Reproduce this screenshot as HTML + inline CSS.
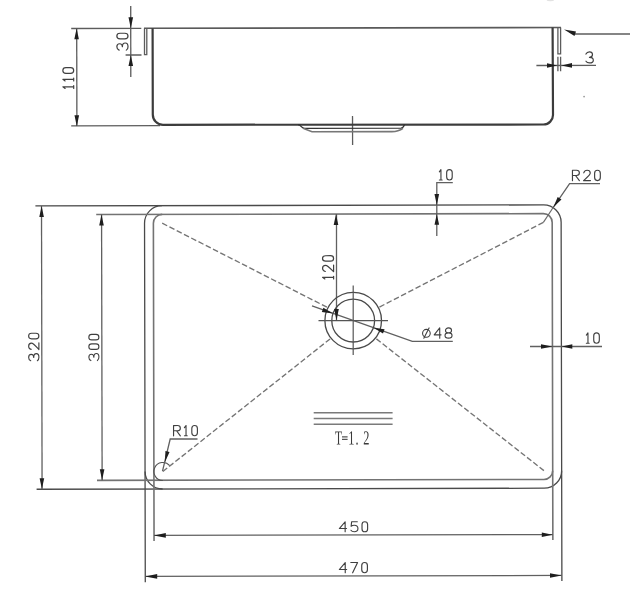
<!DOCTYPE html>
<html><head><meta charset="utf-8">
<style>
html,body{margin:0;padding:0;background:#fff;}
body{width:641px;height:600px;overflow:hidden;}
svg{display:block;}
.s{font-family:"Liberation Serif",serif;font-size:20px;fill:#3a3a3a;filter:grayscale(100%);}
</style></head>
<body>
<svg width="641" height="600" viewBox="0 0 641 600">
<rect width="641" height="600" fill="#fff"/>
<g transform="rotate(-0.12 353.0 300.0)">
<g fill="none" stroke="#5a5a5a" stroke-width="1.6">
<path d="M144.57,27.86 L561.57,27.94"/>
</g>
<g fill="none" stroke="#5c5c5c" stroke-width="1.3">
<path d="M71.77,27.91 L141.87,27.96"/>
<path d="M145.07,27.86 L145.01,54.26 L147.31,54.27 L147.37,27.87"/>
<path d="M558.47,28.03 L558.42,54.23 L561.12,54.24 L561.17,28.04"/>
<path d="M558.41,57.23 L558.38,71.63 M561.11,57.24 L561.08,71.64"/>
<path d="M126.11,54.52 L142.01,54.56"/>
<path d="M71.57,125.31 L160.37,125.20"/>
<path d="M77.27,27.82 L77.27,125.42"/>
<path d="M131.32,5.54 L131.27,76.54"/>
<path d="M536.89,65.88 L596.49,65.81"/>
<path d="M575.56,34.47 L630.56,34.58"/>
<path d="M352.89,116.00 L352.92,145.00"/>
</g>
<g fill="none" stroke="#3c3c3c" stroke-width="2.2">
<path d="M153.17,27.88 L153.19,114.08 A10.2,10.2 0 0 0 163.37,124.40 L543.87,124.90 A9.6,9.6 0 0 0 553.39,115.22 L553.17,28.02"/>
</g>
<g fill="none" stroke="#333" stroke-width="1.3">
<path d="M298.37,124.59 C301.87,124.89 301.56,128.19 304.86,128.20 L401.36,128.20 C403.56,128.11 404.36,126.11 404.97,124.61"/>
</g>
<g fill="none" stroke="#777" stroke-width="1.6">
<path d="M303.96,128.50 L312.35,131.71 L392.15,131.68 C397.35,131.69 400.35,130.60 403.36,128.41"/>
</g>
<g fill="none" stroke="#4a4a4a" stroke-width="1.3">
<path d="M35.60,205.30 H543.8 A17.5,17.5 0 0 1 561.30,222.80 V581.5"/>
<path d="M144.70,581.70 V222.8 A17.5,17.5 0 0 1 162.20,205.30"/>
<path d="M36.20,488.60 H543.8 A17.5,17.5 0 0 0 561.30,471.10"/>
<path d="M144.70,471.10 A17.5,17.5 0 0 0 162.20,488.60"/>
</g>
<g fill="none" stroke="#737373" stroke-width="1.6">
<path d="M96.40,214.00 H543.5500000000001 A8.8,8.8 0 0 1 552.35,222.80 V540.4"/>
<path d="M153.55,540.50 V222.8 A8.8,8.8 0 0 1 162.35,214.00"/>
<path d="M96.60,479.85 H543.5500000000001 A8.8,8.8 0 0 0 552.35,471.05"/>
</g>
<g fill="none" stroke="#555" stroke-width="1.1">
<path d="M169.39,465.31 A9,9 0 1 0 162.50,480.10"/>
</g>
<g fill="none" stroke="#606060" stroke-width="1.3">
<path d="M41.70,205.30 V488.6"/>
<path d="M101.75,214.00 V479.85"/>
<path d="M336.68,213.97 L336.46,320.57"/>
<path d="M436.93,236.18 L437.05,182.88 L453.05,182.91"/>
<path d="M529.90,346.87 L601.90,347.02"/>
<path d="M153.55,535.00 H552.35"/>
<path d="M144.70,575.90 H561.3"/>
<path d="M553.49,207.72 L569.84,184.15 L600.24,184.22"/>
<path d="M162.14,470.80 L169.91,438.62 L197.21,438.67"/>
<path d="M311.99,305.81 L412.21,341.42 L452.71,341.61"/>
</g>
<g fill="none" stroke="#4a4a4a" stroke-width="1.3">
<circle cx="353.16" cy="320.60" r="28.3"/>
<circle cx="353.16" cy="320.60" r="21.4"/>
</g>
<g fill="none" stroke="#555" stroke-width="1.2">
<path d="M353.23,285.50 L353.08,355.00 M318.46,320.53 L387.96,320.67"/>
</g>
<g fill="none" stroke="#7a7a7a" stroke-width="1.6">
<path d="M313.46,412.62 L392.36,412.78"/>
<path d="M313.45,418.42 L392.35,418.58"/>
<path d="M313.44,424.12 L392.34,424.28"/>
</g>
<path fill="none" stroke="#747474" stroke-width="1.35" stroke-dasharray="5.603,2.547" d="M162.35,222.80 L326.90,307.14"/>
<path fill="none" stroke="#747474" stroke-width="1.35" stroke-dasharray="5.592,2.542" d="M543.55,222.80 L379.40,307.12"/>
<path fill="none" stroke="#747474" stroke-width="1.35" stroke-dasharray="5.497,2.499" d="M162.50,471.10 L330.00,338.88"/>
<path fill="none" stroke="#747474" stroke-width="1.35" stroke-dasharray="5.491,2.496" d="M543.55,471.05 L376.30,338.89"/>
<g fill="none" stroke="#666" stroke-width="1.1">
<path d="M553.49,207.72 L543.55,222.80"/>
</g>
<circle cx="584.5" cy="97.1" r="0.9" fill="#999"/>
<ellipse cx="551" cy="0" rx="4" ry="1.6" fill="#e2e2e2"/>
<g fill="#1e1e1e">
<path d="M77.17,27.82 L74.85,38.72 L79.45,38.73 Z"/>
<path d="M77.16,125.62 L79.49,114.63 L74.89,114.62 Z"/>
<path d="M131.37,27.84 L133.69,16.74 L129.09,16.73 Z"/>
<path d="M131.31,54.54 L128.99,65.53 L133.59,65.54 Z"/>
<path d="M557.79,65.93 L547.50,63.61 L547.49,68.21 Z"/>
<path d="M561.99,65.84 L572.49,68.16 L572.50,63.56 Z"/>
<path d="M564.57,29.84 L576.56,31.97 L575.05,36.46 Z"/>
<path d="M41.80,205.35 L39.47,216.34 L44.07,216.35 Z"/>
<path d="M41.50,488.45 L43.83,477.55 L39.23,477.54 Z"/>
<path d="M101.68,213.87 L99.36,224.87 L103.96,224.88 Z"/>
<path d="M101.72,479.67 L104.05,468.68 L99.45,468.67 Z"/>
<path d="M336.18,214.06 L333.86,224.96 L338.46,224.97 Z"/>
<path d="M336.46,320.47 L338.78,308.97 L334.18,308.96 Z"/>
<path d="M437.00,205.48 L439.32,194.18 L434.72,194.17 Z"/>
<path d="M436.98,214.18 L434.66,224.97 L439.26,224.98 Z"/>
<path d="M552.30,346.92 L540.91,344.59 L540.90,349.19 Z"/>
<path d="M561.50,346.94 L572.20,349.26 L572.21,344.66 Z"/>
<path d="M153.41,534.98 L165.30,537.31 L165.31,532.71 Z"/>
<path d="M552.21,535.12 L541.31,532.79 L541.30,537.39 Z"/>
<path d="M144.42,575.96 L156.62,578.29 L156.63,573.69 Z"/>
<path d="M561.02,575.94 L549.43,573.61 L549.42,578.21 Z"/>
<path d="M553.49,207.72 L561.69,200.06 L557.93,197.41 Z"/>
<path d="M164.56,461.81 L169.22,451.72 L165.14,450.71 Z"/>
<path d="M332.97,313.46 L323.36,307.57 L321.80,311.90 Z"/>
<path d="M373.34,327.74 L382.96,333.63 L384.51,329.30 Z"/>
</g>
<g fill="none" stroke="#404040" stroke-width="1.15" stroke-linecap="round" stroke-linejoin="round">
<g transform="translate(74.74,88.42) rotate(-90) translate(0.575,-0.575) scale(1.0172,1.0333)"><path transform="translate(0.00,-10.5)" d="M0,2.2 L1.6,0 V10.5 M0,10.5 H2.8"/><path transform="translate(7.40,-10.5)" d="M0,2.2 L1.6,0 V10.5 M0,10.5 H2.8"/><path transform="translate(14.80,-10.5)" d="M0,3 C0,-1 5.6,-1 5.6,3 V7.5 C5.6,11.5 0,11.5 0,7.5 Z"/></g>
<g transform="translate(129.12,50.43) rotate(-90) translate(0.575,-0.575) scale(0.9971,1.0619)"><path transform="translate(0.00,-10.5)" d="M0.2,2.1 C0.9,0.6 2.2,0 3.6,0 C5.4,0 6.6,1.2 6.6,2.6 C6.6,4.2 5.1,5.2 3.6,5.2 C6.1,5.2 7.4,6.4 7.4,7.9 C7.4,9.5 5.8,10.5 3.7,10.5 C2,10.5 0.8,9.9 0.2,8.9"/><path transform="translate(11.50,-10.5)" d="M0,3 C0,-1 5.6,-1 5.6,3 V7.5 C5.6,11.5 0,11.5 0,7.5 Z"/></g>
<g transform="translate(585.69,63.99) translate(0.575,-0.575) scale(1.0203,1.0524)"><path transform="translate(0.00,-10.5)" d="M0.2,2.1 C0.9,0.6 2.2,0 3.6,0 C5.4,0 6.6,1.2 6.6,2.6 C6.6,4.2 5.1,5.2 3.6,5.2 C6.1,5.2 7.4,6.4 7.4,7.9 C7.4,9.5 5.8,10.5 3.7,10.5 C2,10.5 0.8,9.9 0.2,8.9"/></g>
<g transform="translate(572.15,181.66) translate(0.575,-0.575) scale(1.0164,0.9857)"><path transform="translate(0.00,-10.5)" d="M0,10.5 V0 H4 C5.8,0 6.8,1.2 6.8,2.65 C6.8,4.1 5.8,5.3 4,5.3 H0 M3,5.3 L6.8,10.5"/><path transform="translate(10.90,-10.5)" d="M0.2,2.6 C0.8,0.7 2.1,0 3.5,0 C5.5,0 6.6,1.3 6.6,2.9 C6.6,4.8 4.9,6.1 0,10.5 H6.8"/><path transform="translate(21.80,-10.5)" d="M0,3 C0,-1 5.6,-1 5.6,3 V7.5 C5.6,11.5 0,11.5 0,7.5 Z"/></g>
<g transform="translate(439.05,180.78) translate(0.575,-0.575) scale(0.9885,0.9857)"><path transform="translate(0.00,-10.5)" d="M0,2.2 L1.6,0 V10.5 M0,10.5 H2.8"/><path transform="translate(7.40,-10.5)" d="M0,3 C0,-1 5.6,-1 5.6,3 V7.5 C5.6,11.5 0,11.5 0,7.5 Z"/></g>
<g transform="translate(334.24,279.46) rotate(-90) translate(0.575,-0.575) scale(0.9728,1.0524)"><path transform="translate(0.00,-10.5)" d="M0,2.2 L1.6,0 V10.5 M0,10.5 H2.8"/><path transform="translate(7.40,-10.5)" d="M0.2,2.6 C0.8,0.7 2.1,0 3.5,0 C5.5,0 6.6,1.3 6.6,2.9 C6.6,4.8 4.9,6.1 0,10.5 H6.8"/><path transform="translate(18.30,-10.5)" d="M0,3 C0,-1 5.6,-1 5.6,3 V7.5 C5.6,11.5 0,11.5 0,7.5 Z"/></g>
<g transform="translate(421.92,338.94) translate(0.575,-0.575) scale(0.9593,0.9762)"><path transform="translate(0.00,-10.5)" d="M4,1.5 A4,4 0 1 0 4,9.5 A4,4 0 1 0 4,1.5 Z M1.3,10.5 L6.8,0"/><path transform="translate(12.10,-10.5)" d="M5.8,10.5 V0 L0,7.1 H7.2"/><path transform="translate(23.40,-10.5)" d="M3.65,5.1 C1.8,5.1 0.5,4.1 0.5,2.55 C0.5,1 1.8,0 3.65,0 C5.5,0 6.8,1 6.8,2.55 C6.8,4.1 5.5,5.1 3.65,5.1 C1.6,5.1 0,6.3 0,7.8 C0,9.4 1.6,10.5 3.65,10.5 C5.7,10.5 7.3,9.4 7.3,7.8 C7.3,6.3 5.7,5.1 3.65,5.1 Z"/></g>
<g transform="translate(585.71,344.29) translate(0.575,-0.575) scale(0.9962,0.9857)"><path transform="translate(0.00,-10.5)" d="M0,2.2 L1.6,0 V10.5 M0,10.5 H2.8"/><path transform="translate(7.40,-10.5)" d="M0,3 C0,-1 5.6,-1 5.6,3 V7.5 C5.6,11.5 0,11.5 0,7.5 Z"/></g>
<g transform="translate(39.37,360.84) rotate(-90) translate(0.575,-0.575) scale(0.9875,0.9762)"><path transform="translate(0.00,-10.5)" d="M0.2,2.1 C0.9,0.6 2.2,0 3.6,0 C5.4,0 6.6,1.2 6.6,2.6 C6.6,4.2 5.1,5.2 3.6,5.2 C6.1,5.2 7.4,6.4 7.4,7.9 C7.4,9.5 5.8,10.5 3.7,10.5 C2,10.5 0.8,9.9 0.2,8.9"/><path transform="translate(11.50,-10.5)" d="M0.2,2.6 C0.8,0.7 2.1,0 3.5,0 C5.5,0 6.6,1.3 6.6,2.9 C6.6,4.8 4.9,6.1 0,10.5 H6.8"/><path transform="translate(22.40,-10.5)" d="M0,3 C0,-1 5.6,-1 5.6,3 V7.5 C5.6,11.5 0,11.5 0,7.5 Z"/></g>
<g transform="translate(99.37,360.77) rotate(-90) translate(0.575,-0.575) scale(0.9832,0.9571)"><path transform="translate(0.00,-10.5)" d="M0.2,2.1 C0.9,0.6 2.2,0 3.6,0 C5.4,0 6.6,1.2 6.6,2.6 C6.6,4.2 5.1,5.2 3.6,5.2 C6.1,5.2 7.4,6.4 7.4,7.9 C7.4,9.5 5.8,10.5 3.7,10.5 C2,10.5 0.8,9.9 0.2,8.9"/><path transform="translate(11.50,-10.5)" d="M0,3 C0,-1 5.6,-1 5.6,3 V7.5 C5.6,11.5 0,11.5 0,7.5 Z"/><path transform="translate(21.20,-10.5)" d="M0,3 C0,-1 5.6,-1 5.6,3 V7.5 C5.6,11.5 0,11.5 0,7.5 Z"/></g>
<g transform="translate(172.71,436.02) translate(0.575,-0.575) scale(0.9979,0.9762)"><path transform="translate(0.00,-10.5)" d="M0,10.5 V0 H4 C5.8,0 6.8,1.2 6.8,2.65 C6.8,4.1 5.8,5.3 4,5.3 H0 M3,5.3 L6.8,10.5"/><path transform="translate(10.90,-10.5)" d="M0,2.2 L1.6,0 V10.5 M0,10.5 H2.8"/><path transform="translate(18.30,-10.5)" d="M0,3 C0,-1 5.6,-1 5.6,3 V7.5 C5.6,11.5 0,11.5 0,7.5 Z"/></g>
<g transform="translate(338.31,532.37) translate(0.575,-0.575) scale(0.9982,0.9571)"><path transform="translate(0.00,-10.5)" d="M5.8,10.5 V0 L0,7.1 H7.2"/><path transform="translate(11.30,-10.5)" d="M6.7,0 H1 L0.5,4.7 C1.3,4 2.4,3.7 3.6,3.7 C5.9,3.7 7.3,5.1 7.3,7.1 C7.3,9.1 5.8,10.5 3.6,10.5 C2,10.5 0.9,9.9 0.3,8.9"/><path transform="translate(22.70,-10.5)" d="M0,3 C0,-1 5.6,-1 5.6,3 V7.5 C5.6,11.5 0,11.5 0,7.5 Z"/></g>
<g transform="translate(338.23,573.37) translate(0.575,-0.575) scale(1.0126,0.9762)"><path transform="translate(0.00,-10.5)" d="M5.8,10.5 V0 L0,7.1 H7.2"/><path transform="translate(11.30,-10.5)" d="M0,0 H6.7 L1.8,10.5"/><path transform="translate(22.10,-10.5)" d="M0,3 C0,-1 5.6,-1 5.6,3 V7.5 C5.6,11.5 0,11.5 0,7.5 Z"/></g>
</g>
<g class="s">
<text transform="translate(334.80,444.56) scale(0.58,1)">T</text>
<text transform="translate(347.90,444.59) scale(0.62,1)">1</text>
<text transform="translate(355.30,444.61) scale(0.62,1)">.</text>
<text transform="translate(362.90,444.62) scale(0.62,1)">2</text>
</g>
<path fill="none" stroke="#555" stroke-width="1.1" d="M341.71,436.88 L347.31,436.89 M341.71,439.38 L347.31,439.39"/>
</g>
</svg>
</body></html>
